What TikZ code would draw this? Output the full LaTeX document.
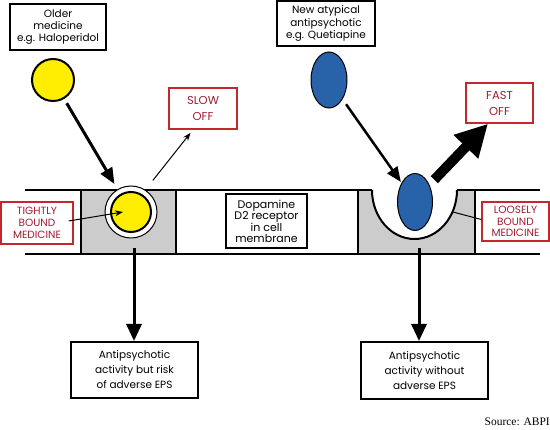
\documentclass[tikz,border=0pt]{standalone}
\usepackage{fontspec}
\setmainfont{Poppins}
\newfontfamily\srcfont{Liberation Serif}
\usetikzlibrary{arrows.meta,calc,shapes.geometric}
\definecolor{dred}{RGB}{160,30,50}
\definecolor{bred}{RGB}{195,40,45}
\definecolor{dyell}{RGB}{255,238,0}
\definecolor{dblue}{RGB}{40,98,168}
\definecolor{mgray}{RGB}{204,204,204}
\begin{document}
\begin{tikzpicture}[x=1pt,y=-1pt,
  box/.style={draw=black,line width=2pt,fill=white,align=center,inner sep=0pt,font=\fontsize{10.5}{12}\selectfont},
  resbox/.style={box,font=\fontsize{10.5}{15}\selectfont,minimum width=127pt,minimum height=56pt},
  redbox/.style={draw=bred,line width=1.5pt,fill=white,align=center,inner sep=0pt,text=dred,font=\fontsize{10.5}{11.7}\selectfont},
  offbox/.style={redbox,font=\fontsize{11.5}{16}\selectfont},
  memb/.style={line width=2pt},
  bigarrow/.style={line width=3pt,-{Triangle[length=16pt,width=13pt]}},
  bluearrow/.style={line width=2.5pt,-{Triangle[length=15pt,width=12pt]}},
  downarrow/.style={line width=3pt,-{Triangle[length=17pt,width=15pt]}},
  thinarrow/.style={line width=1pt,-{Stealth[length=8pt,width=6pt]}},
  fatarrow/.style={line width=10pt,-{Triangle[length=32pt,width=32pt]}}
]
\useasboundingbox (0,0) rectangle (550,430);

% membrane
\fill[mgray] (81,190) rectangle (176,254);
\fill[mgray] (358,190) rectangle (475,254);
\fill[white] (372,189) .. controls (372,217) and (391,239) .. (414.5,239)
  .. controls (438,239) and (457,217) .. (457,189) -- cycle;
\draw[memb] (372,190) .. controls (372,217) and (391,239) .. (414.5,239)
  .. controls (438,239) and (457,217) .. (457,190);
\draw[memb] (25,190) -- (372,190);
\draw[memb] (457,190) -- (540,190);
\draw[memb] (25,254) -- (540,254);
\draw[memb] (81,190) -- (81,254);
\draw[memb] (176,190) -- (176,254);
\draw[memb] (358,190) -- (358,254);
\draw[memb] (475,190) -- (475,254);

% bound medicines
\node[circle,draw,line width=1pt,fill=white,minimum size=52pt,inner sep=0pt] (ring) at (131,212) {};
\node[circle,draw,line width=2pt,fill=dyell,minimum size=40pt,inner sep=0pt] (tightc) at (131,212) {};
\node[ellipse,draw,line width=1pt,fill=dblue,minimum width=35pt,minimum height=57pt,inner sep=0pt] (bnew) at (415,202) {};

% free medicines
\node[circle,draw,line width=2pt,fill=dyell,minimum size=42pt,inner sep=0pt] (oldc) at (53,80) {};
\node[ellipse,draw,line width=1pt,fill=dblue,minimum width=36pt,minimum height=56pt,inner sep=0pt] (newc) at (329,80) {};

% boxes
\node[box,minimum width=96pt,minimum height=46pt] (older) at (58,27) {Older\\medicine\\e.g. Haloperidol};
\node[box,minimum width=98pt,minimum height=45pt,font=\fontsize{10.5}{12.5}\selectfont] (newb) at (326,23.5) {New atypical\\antipsychotic\\e.g. Quetiapine};
\node[offbox,minimum width=68pt,minimum height=41pt] (slow) at (203,108.5) {SLOW\\OFF};
\node[offbox,minimum width=67pt,minimum height=40pt] (fast) at (499.5,103) {FAST\\OFF};
\node[redbox,minimum width=72pt,minimum height=42pt] (tight) at (37,223) {TIGHTLY\\BOUND\\MEDICINE};
\node[redbox,minimum width=67pt,minimum height=39pt] (loose) at (515.5,221.5) {LOOSELY\\BOUND\\MEDICINE};
\node[box,minimum width=81pt,minimum height=54pt,font=\fontsize{11}{11}\selectfont] (dopa) at (266.5,221) {Dopamine\\D2 receptor\\in cell\\membrane};
\node[resbox] (res1) at (134.5,370) {Antipsychotic\\activity but risk\\of adverse EPS};
\node[resbox,minimum height=57pt] (res2) at (424.5,370.5) {Antipsychotic\\activity without\\adverse EPS};
\node[font=\srcfont\fontsize{11.5}{13}\selectfont,anchor=east,inner sep=0pt] (src) at (550,422) {Source: ABPI};

% connectors
\draw[bigarrow,shorten <=5pt,shorten >=6pt] (oldc) -- (ring);
\draw[bluearrow,shorten <=6pt,shorten >=1pt] (newc) -- (bnew);
\draw[thinarrow,shorten <=12pt,shorten >=4pt] (ring.57) -- ([xshift=-10pt]slow.south);
\draw[fatarrow,shorten <=7pt] (bnew.50) -- ([xshift=-11.5pt]fast.south);
\draw[thinarrow] ([xshift=-5pt,yshift=2pt]tight.east) -- ([xshift=-8pt]tightc.center);
\coordinate (cupedge) at (453,212);
\draw[line width=1pt] ([yshift=2pt]loose.west) -- (cupedge);
\coordinate (g1) at (134,248);
\coordinate (g2) at (419,248);
\draw[downarrow] (g1) -- (g1 |- res1.north);
\draw[downarrow] (g2) -- (g2 |- res2.north);
\end{tikzpicture}
\end{document}
